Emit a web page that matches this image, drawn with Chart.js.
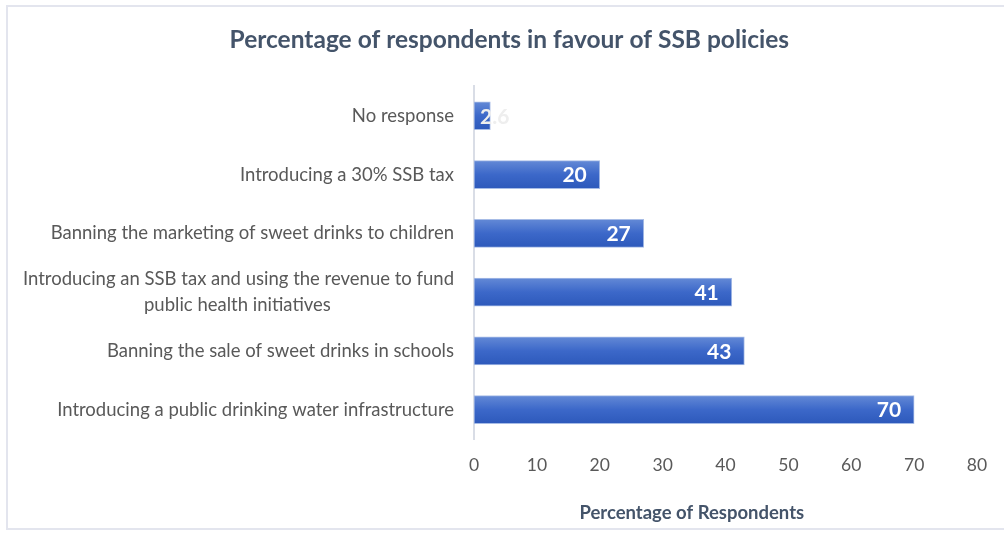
<!DOCTYPE html>
<html>
<head>
<meta charset="utf-8">
<script src="https://cdn.jsdelivr.net/npm/chart.js@4/dist/chart.umd.min.js"></script>
<style>
  html, body { margin: 0; padding: 0; background: #fff; }
  #wrap { position: relative; width: 1004px; height: 534px; }
  #frame { position: absolute; left: 6px; top: 5px; width: 1010px; height: 525px; border: 2px solid #e3e5ee; box-sizing: border-box; pointer-events: none; }
</style>
</head>
<body>
<div id="wrap">
  <canvas id="chart" width="1004" height="534"></canvas>
  <div id="frame"></div>
</div>
<script>
const categories = [
  'No response',
  'Introducing a 30% SSB tax',
  'Banning the marketing of sweet drinks to children',
  ['Introducing an SSB tax and using the revenue to fund', 'public health initiatives'],
  'Banning the sale of sweet drinks in schools',
  'Introducing a public drinking water infrastructure'
];
const values = [2.6, 20, 27, 41, 43, 70];
const xTicks = [0, 10, 20, 30, 40, 50, 60, 70, 80];

const measureCtx = document.createElement('canvas').getContext('2d');

function spacesFor(px, font) {
  measureCtx.font = font;
  return ' '.repeat(Math.round(px / measureCtx.measureText(' ').width));
}

// wrapped labels are right-aligned by Chart.js, pad shorter lines so they sit centred
function centreLines(lines, font) {
  if (!Array.isArray(lines)) return lines;
  measureCtx.font = font;
  const widths = lines.map(l => measureCtx.measureText(l).width);
  const widest = Math.max(...widths);
  return lines.map((l, i) => l + spacesFor((widest - widths[i]) / 2, font));
}

// value labels drawn inside the end of each bar
const barLabels = {
  id: 'barLabels',
  afterDatasetsDraw(chart) {
    const { ctx } = chart;
    const meta = chart.getDatasetMeta(0);
    ctx.save();
    ctx.font = 'bold 21px Lato';
    ctx.textBaseline = 'middle';
    meta.data.forEach((bar, i) => {
      const text = String(values[i]);
      const w = ctx.measureText(text).width;
      if (bar.x - bar.base > w + 20) {
        ctx.textAlign = 'right';
        ctx.fillStyle = '#ffffff';
        ctx.fillText(text, bar.x - 13, bar.y + 1);
      } else {
        ctx.textAlign = 'left';
        ctx.fillStyle = '#eeeeee';
        ctx.fillText(text, bar.base + 6, bar.y + 1);
      }
    });
    ctx.restore();
  }
};

const yFont = '18.5px Lato';
const titleFont = 'bold 24.5px Lato';
const axisTitleFont = 'bold 18.5px Lato';

new Chart(document.getElementById('chart'), {
  type: 'bar',
  data: {
    labels: categories,
    datasets: [{
      data: values,
      backgroundColor(context) {
        const { chart } = context;
        if (!chart.chartArea || !chart.scales.y) return '#3a66c8';
        const y = chart.scales.y.getPixelForValue(context.dataIndex);
        const g = chart.ctx.createLinearGradient(0, y - 14, 0, y + 14);
        g.addColorStop(0, '#6389d6');
        g.addColorStop(0.5, '#3c68c9');
        g.addColorStop(1, '#2d59bb');
        return g;
      },
      borderColor: '#a7bce6',
      borderWidth: 1,
      borderSkipped: false,
      barThickness: 28
    }]
  },
  options: {
    indexAxis: 'y',
    responsive: false,
    animation: false,
    layout: { padding: { left: 0, right: 27, top: 0, bottom: 0 } },
    plugins: {
      legend: { display: false },
      tooltip: { enabled: false },
      title: {
        display: true,
        text: spacesFor(43, titleFont) + 'Percentage of respondents in favour of SSB policies',
        color: '#44546a',
        font: { family: 'Lato', size: 24.5, weight: 'bold' },
        padding: { top: 25, bottom: 32 }
      }
    },
    scales: {
      x: {
        min: 0,
        max: 80,
        afterBuildTicks(scale) { scale.ticks = xTicks.map(v => ({ value: v })); },
        afterFit(scale) { scale.height = 95; },
        grid: { display: false },
        border: { display: false },
        ticks: { color: '#595959', font: { family: 'Lato', size: 17.5 }, padding: 8 },
        title: {
          display: true,
          text: 'Percentage of Respondents' + spacesFor(68, axisTitleFont),
          color: '#44546a',
          font: { family: 'Lato', size: 18.5, weight: 'bold' },
          padding: { top: 4, bottom: 10 }
        }
      },
      y: {
        afterFit(scale) { scale.width = 474; },
        grid: { display: false },
        border: { display: true, color: '#d9dde6', width: 2 },
        ticks: {
          color: '#595959',
          font: { family: 'Lato', size: 18.5, lineHeight: 1.4 },
          padding: 12,
          callback(value, index) { return centreLines(categories[index], yFont); }
        }
      }
    }
  },
  plugins: [barLabels]
});
</script>
</body>
</html>
